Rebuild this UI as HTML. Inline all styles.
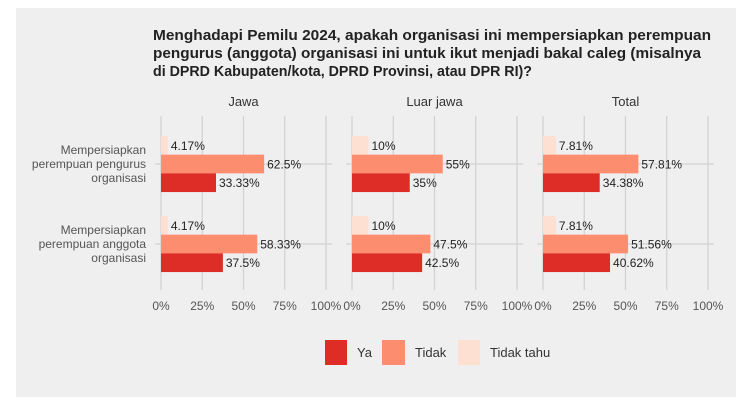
<!DOCTYPE html>
<html><head><meta charset="utf-8"><style>
body{margin:0;background:#fff;font-family:"Liberation Sans",sans-serif}
svg{display:block}
</style></head><body>
<svg id="chart" width="754" height="412">
<rect x="16" y="8" width="720" height="389" fill="#efefef"/>
<g font-size="14.5" fill="#222" font-weight="bold">
<text x="153" y="40" textLength="558" lengthAdjust="spacingAndGlyphs">Menghadapi Pemilu 2024, apakah organisasi ini mempersiapkan perempuan</text>
<text x="153" y="58" textLength="548" lengthAdjust="spacingAndGlyphs">pengurus (anggota) organisasi ini untuk ikut menjadi bakal caleg (misalnya</text>
<text x="153" y="76" textLength="379" lengthAdjust="spacingAndGlyphs">di DPRD Kabupaten/kota, DPRD Provinsi, atau DPR RI)?</text>
</g>
<g id="panels"></g>
<g font-size="13" fill="#333">
<rect x="325" y="340" width="22" height="25" fill="#de2d26"/>
<text x="357" y="357">Ya</text>
<rect x="382" y="340" width="23" height="25" fill="#fc8d6f"/>
<text x="415" y="357">Tidak</text>
<rect x="458" y="340" width="22" height="25" fill="#fde0d2"/>
<text x="490" y="357">Tidak tahu</text>
</g>
</svg>
<script>
const panels = ["Jawa","Luar jawa","Total"];
const categories = [["Mempersiapkan","perempuan pengurus","organisasi"],["Mempersiapkan","perempuan anggota","organisasi"]];
const tidakTahu = [[4.17,4.17],[10,10],[7.81,7.81]];
const tidak = [[62.5,58.33],[55,47.5],[57.81,51.56]];
const ya = [[33.33,37.5],[35,42.5],[34.38,40.62]];
const ticks = [0,25,50,75,100];
const tickLabels = ["0%","25%","50%","75%","100%"];

const NS="http://www.w3.org/2000/svg";
const panelsG=document.getElementById('panels');
const panelX0=[161,352,543], panelW=165, plotTop=116, plotBottom=290;
const catCenter=[164,244], barH=18.7;
function mk(tag,attrs,parent){const e=document.createElementNS(NS,tag);for(const k in attrs)e.setAttribute(k,attrs[k]);(parent||panelsG).appendChild(e);return e;}
function fmt(v){return (Math.round(v*100)/100)+"%";}
panels.forEach((p,pi)=>{
  const x=v=>panelX0[pi]+v/100*panelW;
  const pg=mk('g',{});
  
  
  ticks.forEach((t,ti)=>{
    const l=mk('line',{x1:x(t),x2:x(t),y1:plotTop,y2:plotBottom,stroke:'#d2d2d2','stroke-width':1.3},pg);
    
    
    const tx=mk('text',{x:x(t),y:310,'text-anchor':'middle','font-size':12,fill:'#555'},pg);
    tx.textContent=tickLabels[ti];
    
    
  });
  catCenter.forEach(cy=>{
    const l=mk('line',{x1:panelX0[pi]-6,x2:panelX0[pi]+panelW+6,y1:cy,y2:cy,stroke:'#d2d2d2','stroke-width':1.3},pg);
    
    
  });
  const st=mk('text',{x:panelX0[pi]+panelW/2,y:106,'text-anchor':'middle','font-size':13,fill:'#333'},pg);
  st.textContent=p;
  
  
  categories.forEach((c,ci)=>{
    const series=[[tidakTahu,'#fde0d2','tidak-tahu'],[tidak,'#fc8d6f','tidak'],[ya,'#de2d26','ya']];
    series.forEach((s,si)=>{
      const v=s[0][pi][ci];
      const y=catCenter[ci]-barH*1.5+si*barH;
      const r=mk('rect',{x:x(0),y:y,width:x(v)-x(0),height:barH,fill:s[1]},pg);
      
      
      const t=mk('text',{x:x(v)+3,y:y+barH/2+4.5,'font-size':12,fill:'#222'},pg);
      t.textContent=fmt(v);
      
      
    });
  });
});
categories.forEach((c,ci)=>{
  c.forEach((line,li)=>{
    const t=mk('text',{x:146,y:catCenter[ci]-14+li*14+4,'text-anchor':'end','font-size':12,fill:'#555'});
    t.textContent=line;
    
    
  });
});
</script>
</body></html>
